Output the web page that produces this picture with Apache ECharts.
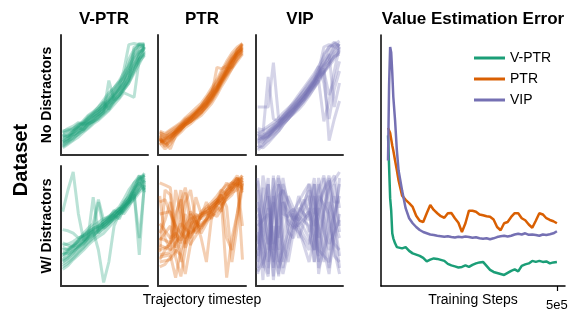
<!DOCTYPE html>
<html>
<head>
    <meta charset="utf-8">
    <title>Value Estimation Error</title>
    <script src="https://cdn.jsdelivr.net/npm/echarts@6.0.0/dist/echarts.min.js"></script>
    <style>
        body { margin: 0; background: #fff; }
        #chart { width: 581px; height: 323px; }
    </style>
</head>
<body>
<div id="chart"></div>
<script type="text/javascript">
// trajectory timesteps (shared by all small panels)
var ts = [0.02,0.08,0.14,0.20,0.26,0.31,0.37,0.43,0.49,0.55,0.61,0.67,0.72,0.78,0.84,0.90,0.96];

// value curves, no distractors
var vptrNoDist = [
    [.10,.12,.16,.20,.22,.26,.28,.32,.35,.40,.45,.50,.56,.64,.74,.84,.89],
    [.15,.17,.19,.22,.26,.27,.31,.34,.38,.44,.48,.55,.60,.70,.80,.86,.90],
    [.08,.11,.15,.17,.21,.25,.28,.30,.34,.38,.44,.50,.54,.60,.70,.80,.86],
    [.18,.20,.21,.24,.27,.30,.33,.36,.40,.46,.52,.57,.63,.72,.84,.90,.92],
    [.12,.14,.19,.23,.21,.26,.30,.35,.44,.38,.46,.50,.55,.62,.90,.92,.93],
    [.20,.21,.22,.25,.28,.31,.34,.38,.42,.48,.54,.60,.66,.80,.88,.91,.90],
    [.06,.09,.12,.15,.19,.22,.26,.29,.33,.37,.42,.47,.52,.50,.48,.80,.87],
    [.11,.14,.17,.20,.24,.28,.31,.34,.37,.43,.50,.55,.60,.66,.74,.80,.84],
    [.16,.19,.22,.26,.25,.30,.35,.40,.46,.52,.56,.62,.68,.74,.82,.88,.91],
    [.09,.12,.14,.18,.24,.26,.28,.32,.36,.62,.46,.50,.56,.62,.70,.84,.90],
    [.13,.16,.20,.23,.27,.32,.35,.38,.42,.46,.52,.58,.70,.92,.93,.92,.91],
    [.14,.16,.17,.19,.22,.25,.29,.33,.38,.42,.45,.48,.54,.60,.68,.76,.85],
    [.17,.15,.20,.24,.29,.33,.36,.40,.44,.50,.56,.61,.64,.70,.78,.86,.88],
    [.07,.10,.13,.18,.20,.23,.27,.31,.36,.41,.48,.54,.59,.68,.76,.82,.90],
    [.19,.22,.24,.27,.26,.29,.33,.37,.40,.44,.50,.56,.62,.76,.86,.93,.92],
    [.11,.13,.18,.22,.25,.28,.32,.36,.39,.45,.49,.53,.57,.64,.72,.78,.83]
];
var ptrNoDist = [
    [.12,.10,.13,.17,.21,.25,.28,.32,.36,.41,.47,.54,.61,.68,.76,.83,.88],
    [.16,.14,.16,.20,.24,.27,.31,.35,.39,.44,.50,.57,.64,.71,.79,.85,.90],
    [.10,.05,.09,.15,.19,.23,.26,.30,.33,.38,.43,.50,.57,.64,.72,.80,.86],
    [.18,.17,.20,.23,.26,.30,.33,.37,.41,.47,.54,.61,.68,.76,.83,.88,.92],
    [.14,.08,.11,.18,.22,.25,.28,.33,.36,.42,.50,.73,.72,.74,.80,.86,.88],
    [.09,.12,.14,.18,.22,.25,.29,.32,.36,.40,.45,.52,.59,.66,.72,.78,.84],
    [.13,.11,.05,.16,.21,.26,.30,.34,.39,.45,.52,.58,.65,.72,.80,.86,.91],
    [.17,.15,.18,.21,.25,.29,.31,.35,.39,.43,.48,.55,.62,.69,.77,.83,.87],
    [.11,.13,.15,.19,.23,.27,.31,.35,.38,.42,.47,.53,.60,.67,.74,.88,.93],
    [.15,.09,.12,.17,.21,.25,.28,.31,.35,.40,.46,.56,.63,.71,.79,.85,.89],
    [.12,.14,.18,.21,.24,.27,.30,.35,.41,.47,.52,.57,.62,.68,.74,.80,.85],
    [.19,.16,.17,.19,.22,.26,.28,.31,.35,.41,.48,.54,.61,.69,.77,.84,.90],
    [.14,.07,.13,.20,.25,.28,.32,.36,.40,.46,.53,.60,.66,.73,.81,.87,.92],
    [.20,.18,.21,.24,.27,.31,.35,.39,.43,.49,.56,.63,.70,.78,.85,.90,.93],
    [.11,.12,.16,.20,.24,.26,.30,.34,.38,.43,.49,.55,.61,.72,.73,.82,.87],
    [.16,.13,.15,.19,.23,.28,.32,.36,.40,.44,.50,.56,.63,.70,.78,.84,.89]
];
var vipNoDist = [
    [.40,.40,.40,.77,.30,.30,.34,.38,.44,.50,.56,.62,.68,.75,.82,.90,.92],
    [.12,.14,.16,.20,.24,.28,.33,.38,.42,.48,.54,.60,.66,.72,.12,.30,.45],
    [.08,.06,.10,.15,.20,.25,.30,.35,.40,.45,.52,.58,.62,.28,.45,.70,.90],
    [.18,.20,.22,.25,.28,.32,.36,.40,.45,.50,.56,.62,.70,.90,.92,.90,.88],
    [.14,.13,.15,.19,.23,.27,.31,.34,.38,.43,.49,.56,.62,.70,.76,.82,.86],
    [.20,.18,.65,.30,.28,.32,.38,.44,.50,.56,.62,.68,.74,.82,.90,.94,.90],
    [.10,.12,.15,.18,.22,.26,.30,.36,.42,.48,.54,.60,.66,.70,.50,.62,.78],
    [.16,.17,.19,.22,.26,.30,.34,.38,.44,.49,.55,.61,.67,.74,.82,.88,.93],
    [.06,.09,.12,.16,.20,.25,.30,.35,.40,.45,.50,.56,.61,.68,.76,.82,.84],
    [.13,.15,.19,.24,.28,.33,.37,.42,.48,.54,.60,.66,.74,.60,.30,.55,.70],
    [.18,.14,.17,.21,.25,.29,.33,.37,.42,.47,.53,.59,.66,.84,.90,.92,.95],
    [.11,.15,.18,.22,.25,.29,.34,.40,.45,.50,.56,.62,.68,.74,.78,.84,.88],
    [.04,.08,.14,.20,.24,.28,.32,.36,.41,.46,.52,.57,.63,.70,.78,.86,.90],
    [.22,.21,.24,.27,.31,.35,.39,.43,.48,.53,.58,.64,.71,.78,.84,.40,.60],
    [.15,.16,.20,.23,.27,.31,.36,.41,.46,.51,.57,.63,.69,.76,.86,.93,.91],
    [.09,.11,.16,.21,.26,.30,.35,.39,.43,.47,.53,.59,.64,.69,.74,.80,.87]
];

// value curves, with distractors
var vptrDist = [
    [.62,.80,.95,.60,.38,.42,.46,.49,.52,.55,.58,.62,.66,.70,.76,.82,.88],
    [.47,.46,.44,.40,.42,.45,.48,.50,.54,.57,.60,.64,.68,.72,.78,.84,.90],
    [.30,.31,.34,.37,.40,.43,.46,.30,.03,.20,.50,.60,.66,.70,.74,.80,.86],
    [.22,.25,.28,.32,.36,.40,.74,.44,.48,.52,.56,.60,.64,.70,.78,.26,.88],
    [.16,.19,.23,.28,.32,.36,.40,.44,.48,.52,.57,.62,.66,.72,.80,.88,.94],
    [.34,.35,.37,.40,.42,.44,.47,.50,.54,.57,.59,.56,.64,.72,.82,.90,.92],
    [.26,.28,.31,.33,.36,.39,.42,.46,.50,.54,.57,.62,.68,.75,.82,.86,.80],
    [.20,.23,.27,.33,.38,.42,.46,.70,.48,.52,.56,.60,.64,.70,.76,.40,.84],
    [.36,.34,.33,.37,.41,.45,.48,.50,.52,.55,.60,.64,.68,.76,.86,.92,.86],
    [.28,.27,.29,.32,.35,.40,.44,.47,.50,.54,.58,.62,.65,.70,.78,.86,.92],
    [.24,.29,.33,.35,.38,.41,.45,.48,.50,.53,.57,.62,.67,.72,.80,.92,.78],
    [.18,.21,.25,.29,.33,.37,.41,.47,.52,.56,.60,.65,.60,.66,.74,.83,.90],
    [.26,.30,.33,.38,.42,.46,.50,.53,.56,.58,.62,.66,.72,.80,.86,.90,.93],
    [.21,.24,.30,.34,.37,.40,.43,.46,.52,.56,.63,.60,.62,.68,.74,.80,.84],
    [.32,.30,.34,.38,.44,.48,.52,.72,.55,.58,.61,.64,.70,.74,.80,.88,.92],
    [.14,.17,.22,.26,.30,.34,.38,.41,.44,.49,.54,.58,.63,.68,.72,.78,.82]
];
var ptrDist = [
    [.86,.84,.82,.40,.70,.82,.60,.45,.62,.66,.70,.75,.80,.84,.86,.84,.82],
    [.24,.25,.26,.07,.30,.38,.44,.48,.52,.56,.62,.68,.72,.78,.84,.88,.90],
    [.75,.40,.30,.55,.80,.35,.50,.60,.56,.60,.68,.72,.76,.80,.86,.90,.22],
    [.30,.32,.34,.60,.72,.48,.40,.52,.58,.60,.62,.68,.70,.07,.40,.60,.86],
    [.20,.21,.22,.28,.36,.70,.80,.55,.40,.20,.58,.62,.66,.74,.80,.84,.90],
    [.60,.61,.62,.50,.20,.40,.46,.74,.60,.62,.64,.70,.74,.80,.86,.92,.80],
    [.34,.32,.30,.36,.42,.50,.56,.58,.60,.64,.66,.70,.76,.40,.30,.60,.88],
    [.44,.55,.70,.24,.08,.30,.60,.52,.48,.56,.66,.70,.72,.78,.82,.88,.92],
    [.26,.27,.28,.34,.55,.78,.50,.44,.50,.55,.62,.70,.80,.76,.80,.86,.50],
    [.52,.46,.40,.44,.38,.46,.52,.55,.58,.64,.68,.72,.68,.72,.76,.84,.88],
    [.22,.30,.36,.80,.60,.32,.42,.48,.58,.70,.60,.58,.64,.74,.82,.90,.86],
    [.38,.44,.50,.32,.46,.60,.34,.56,.60,.62,.56,.68,.78,.86,.80,.86,.92],
    [.16,.18,.24,.30,.26,.10,.35,.42,.48,.54,.58,.64,.70,.76,.82,.86,.84],
    [.70,.72,.60,.50,.44,.40,.48,.54,.50,.56,.64,.68,.72,.74,.78,.80,.90],
    [.28,.80,.76,.40,.36,.50,.62,.56,.44,.52,.60,.66,.62,.80,.84,.90,.78],
    [.40,.38,.36,.42,.52,.48,.44,.50,.58,.62,.66,.72,.76,.66,.20,.50,.85]
];
var vipDist = [
    [.80,.30,.10,.90,.30,.70,.62,.56,.50,.55,.60,.85,.20,.60,.90,.70,.70],
    [.20,.60,.90,.15,.75,.80,.70,.60,.55,.48,.40,.30,.85,.50,.15,.40,.60],
    [.50,.55,.60,.08,.85,.20,.40,.52,.62,.70,.80,.20,.50,.90,.50,.35,.30],
    [.12,.20,.30,.92,.20,.30,.45,.58,.55,.62,.70,.90,.40,.60,.80,.88,.95],
    [.70,.40,.15,.60,.90,.75,.55,.50,.45,.38,.30,.75,.10,.40,.70,.55,.40],
    [.35,.60,.85,.25,.10,.40,.60,.64,.58,.54,.50,.20,.60,.80,.92,.50,.15],
    [.60,.40,.20,.75,.40,.85,.70,.55,.60,.68,.75,.50,.30,.25,.20,.55,.85],
    [.10,.40,.65,.40,.15,.25,.50,.62,.70,.78,.85,.60,.90,.60,.35,.45,.55],
    [.88,.64,.40,.20,.65,.90,.65,.52,.48,.34,.20,.40,.75,.68,.60,.30,.10],
    [.25,.50,.75,.05,.50,.15,.35,.48,.65,.60,.55,.85,.15,.30,.45,.60,.75],
    [.45,.20,.08,.80,.92,.60,.58,.60,.40,.52,.65,.30,.70,.80,.88,.55,.25],
    [.65,.50,.35,.50,.25,.10,.30,.54,.75,.60,.45,.65,.50,.30,.10,.50,.90],
    [.30,.92,.70,.35,.60,.80,.45,.40,.55,.65,.85,.70,.45,.20,.60,.85,.50],
    [.90,.15,.45,.70,.08,.55,.75,.65,.50,.42,.35,.55,.80,.92,.70,.25,.20],
    [.15,.82,.30,.62,.85,.35,.20,.45,.60,.72,.60,.40,.25,.65,.85,.92,.65],
    [.55,.05,.85,.30,.45,.70,.52,.48,.52,.58,.62,.50,.65,.45,.30,.75,.45]
];

// value estimation error vs training steps (thousands)
var steps = [20,23,26,29,32,35,40,45,50,60,70,80,90,100,110,120,130,140,150,160,170,180,190,200,
             210,220,230,240,250,260,270,280,290,300,310,320,330,340,350,360,370,380,390,400,
             410,420,430,440,450,460,470,480,490,500];
var errVptr = [0.60,0.60,0.35,0.30,0.21,0.19,0.17,0.155,0.16,0.15,0.155,0.14,0.13,0.125,0.12,0.112,0.098,0.105,0.11,0.108,
               0.104,0.10,0.088,0.082,0.078,0.074,0.076,0.082,0.076,0.084,0.09,0.094,0.096,0.08,0.064,0.056,0.052,0.048,
               0.044,0.052,0.06,0.066,0.058,0.08,0.086,0.09,0.10,0.096,0.10,0.096,0.098,0.09,0.094,0.096];
var errPtr = [0.63,0.633,0.61,0.61,0.56,0.54,0.50,0.462,0.42,0.36,0.343,0.33,0.315,0.28,0.26,0.255,0.29,0.323,0.303,0.29,
              0.278,0.272,0.29,0.291,0.27,0.252,0.215,0.25,0.30,0.30,0.296,0.285,0.282,0.278,0.276,0.265,0.235,0.222,
              0.25,0.255,0.275,0.29,0.29,0.27,0.262,0.245,0.232,0.26,0.29,0.285,0.27,0.263,0.258,0.25];
var errVip = [0.50,0.80,0.952,0.93,0.85,0.753,0.66,0.542,0.46,0.38,0.31,0.27,0.25,0.235,0.223,0.215,0.21,0.205,0.203,0.20,
              0.198,0.196,0.198,0.195,0.193,0.196,0.194,0.197,0.195,0.192,0.194,0.19,0.188,0.19,0.186,0.19,0.195,0.198,
              0.20,0.197,0.20,0.205,0.208,0.205,0.21,0.204,0.205,0.203,0.20,0.205,0.203,0.206,0.21,0.218];

var methodNames = ['V-PTR', 'PTR', 'VIP'];
var colors = ['#1b9e77', '#d95f02', '#7570b3'];
var font = '"Liberation Sans", Arial, sans-serif';

var myChart = echarts.init(document.getElementById('chart'), null, {renderer: 'canvas'});

var panels = [vptrNoDist, ptrNoDist, vipNoDist, vptrDist, ptrDist, vipDist];
var panelBox = [
    {left: 61, top: 35, width: 87, height: 120},
    {left: 158, top: 35, width: 88, height: 120},
    {left: 256, top: 35, width: 87, height: 120},
    {left: 61, top: 166, width: 87, height: 120},
    {left: 158, top: 166, width: 88, height: 120},
    {left: 256, top: 166, width: 87, height: 120}
];

var grids = [], xAxes = [], yAxes = [], series = [];
var smallAxisLine = {show: true, lineStyle: {color: '#333', width: 2}};

for (var p = 0; p < panels.length; p++) {
    grids.push(panelBox[p]);
    var xa = {
        type: 'value', gridIndex: p, min: 0, max: 1,
        axisLine: smallAxisLine, axisTick: {show: false},
        axisLabel: {show: false}, splitLine: {show: false}
    };
    if (p == 4) {
        xa.name = 'Trajectory timestep';
        xa.nameLocation = 'middle';
        xa.nameGap = 7;
        xa.nameMoveOverlap = false;
        xa.nameTextStyle = {fontSize: 14, color: '#000', fontFamily: font, verticalAlign: 'top'};
    }
    xAxes.push(xa);
    yAxes.push({
        type: 'value', gridIndex: p, min: 0, max: 1,
        axisLine: smallAxisLine, axisTick: {show: false},
        axisLabel: {show: false}, splitLine: {show: false}
    });
    var trajs = panels[p];
    for (var k = 0; k < trajs.length; k++) {
        var pts = [];
        for (var i = 0; i < ts.length; i++) pts.push([ts[i], trajs[k][i]]);
        series.push({
            name: 'traj_' + p + '_' + k,
            type: 'line',
            xAxisIndex: p, yAxisIndex: p,
            data: pts,
            symbol: 'none',
            silent: true,
            lineStyle: {color: colors[p % 3], width: 3, opacity: 0.3},
            itemStyle: {color: colors[p % 3]}
        });
    }
}

// right panel
grids.push({left: 381, top: 35, width: 184, height: 251});
xAxes.push({
    type: 'value', gridIndex: 6, min: 0, max: 523,
    name: 'Training Steps', nameLocation: 'middle', nameGap: 7, nameMoveOverlap: false,
    nameTextStyle: {fontSize: 14, color: '#000', fontFamily: font, verticalAlign: 'top'},
    axisLine: {show: true, lineStyle: {color: '#000', width: 1.5}},
    axisTick: {show: true, customValues: [500], length: 5, lineStyle: {color: '#000', width: 1.2}},
    axisLabel: {show: true, customValues: [500], margin: 13, fontSize: 13, color: '#000', fontFamily: font,
                formatter: function () { return '5e5'; }},
    splitLine: {show: false}
});
yAxes.push({
    type: 'value', gridIndex: 6, min: 0, max: 1,
    axisLine: {show: true, lineStyle: {color: '#000', width: 1.5}},
    axisTick: {show: false}, axisLabel: {show: false}, splitLine: {show: false}
});
var errs = [errVptr, errPtr, errVip];
for (var m = 0; m < 3; m++) {
    var d = [];
    for (var j = 0; j < steps.length; j++) d.push([steps[j], errs[m][j]]);
    series.push({
        name: methodNames[m],
        type: 'line',
        xAxisIndex: 6, yAxisIndex: 6,
        data: d,
        symbol: 'none',
        lineStyle: {color: colors[m], width: 2.5},
        itemStyle: {color: colors[m]}
    });
}

function label(text, x, y, size, bold, rot) {
    return {
        type: 'text', x: x, y: y, rotation: rot || 0, silent: true,
        style: {
            text: text, fill: '#000', align: 'center', verticalAlign: 'middle',
            font: (bold ? 'bold ' : '') + size + 'px ' + font
        }
    };
}

var option = {
    animation: false,
    backgroundColor: '#fff',
    grid: grids,
    xAxis: xAxes,
    yAxis: yAxes,
    legend: {
        data: methodNames,
        orient: 'vertical',
        left: 469, top: 46,
        icon: 'rect',
        itemWidth: 31, itemHeight: 3,
        itemGap: 7,
        textStyle: {fontSize: 14, color: '#000', fontFamily: font}
    },
    graphic: [
        label('V-PTR', 104, 19, 17, true),
        label('PTR', 202, 19, 17, true),
        label('VIP', 300, 19, 17, true),
        label('Value Estimation Error', 473, 19, 17, true),
        label('No Distractors', 47, 95, 14, true, Math.PI / 2),
        label('W/ Distractors', 47, 226, 14, true, Math.PI / 2),
        label('Dataset', 21, 160, 20, true, Math.PI / 2)
    ],
    series: series
};

myChart.setOption(option);
</script>
</body>
</html>
